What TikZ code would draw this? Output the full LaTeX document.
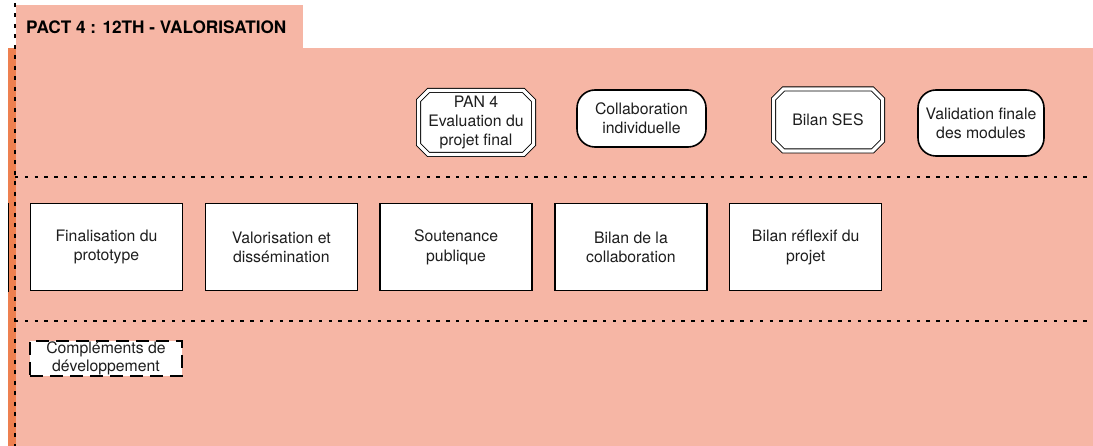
\documentclass[tikz,border=0pt]{standalone}
\usepackage{fontspec}
\setmainfont{TeX Gyre Heros}
\usepackage{tikz}
\usetikzlibrary{shapes.misc, positioning}
\usepackage{xcolor}
\definecolor{pact}{HTML}{F6B6A5}
\definecolor{pactedge}{HTML}{EE8050}
\definecolor{ink}{HTML}{1E1E1E}
\newcommand{\boxfont}{\fontsize{15.8}{19.3}\selectfont}
\tikzset{
  task/.style={rectangle, draw=black, line width=1.3pt, fill=white,
               minimum width=152pt, minimum height=87pt, inner sep=0pt,
               align=center, text=ink, font=\boxfont},
  jalon/.style={chamfered rectangle, chamfered rectangle xsep=5pt,
                chamfered rectangle ysep=5pt, draw=black, line width=0.9pt,
                double=white, double distance=3.2pt, fill=white, inner sep=0pt,
                align=center, text=ink, font=\boxfont},
  livrable/.style={rectangle, rounded corners=18pt, draw=black,
                   line width=1.6pt, fill=white, inner sep=0pt,
                   align=center, text=ink, font=\boxfont},
  option/.style={rectangle, draw=black, line width=1.8pt,
                 dash pattern=on 13pt off 7pt, fill=white, inner sep=0pt,
                 align=center, text=ink, font=\boxfont},
  sep/.style={black, line width=2pt, dash pattern=on 3.3pt off 6.5pt},
}

\begin{document}
\begin{tikzpicture}[x=1pt, y=-1pt, node distance=21.5pt]

  \useasboundingbox (0,0) rectangle (1093,446);

  %% ── PHASE BACKGROUND ─────────────────────────────────────────────────────
  \fill[pact] (16,5) rectangle (303,48);
  \fill[pact] (16,48) rectangle (1093,446);
  \fill[pactedge] (8,48) rectangle (16,446);
  \draw[sep, dash pattern=on 4pt off 6.5pt] (15,3) -- (15,446);
  \draw[line width=1.3pt] (8.5,203) -- (8.5,292);
  \node[anchor=west, inner sep=0pt, font=\fontsize{17.2}{20}\selectfont\bfseries]
    (titre) at (26,27) {PACT 4 : 12TH - VALORISATION};

  %% lane separators
  \foreach \y in {177, 321}{
    \draw[sep] (15,\y) -- (1093,\y);
  }

  %% ── MILESTONES (top lane) ────────────────────────────────────────────────
  \node[jalon, minimum width=115pt, minimum height=64pt]
    (pan)    at (476,122.5) {PAN 4\\Evaluation du\\projet final};
  \node[livrable, minimum width=129pt, minimum height=57pt]
    (collab) at (641.5,118.5) {Collaboration\\individuelle};
  \node[jalon, minimum width=109pt, minimum height=62pt]
    (ses)    at (828,120) {Bilan SES};
  \node[livrable, minimum width=126pt, minimum height=66pt]
    (modules) at (981,123) {Validation finale\\des modules};

  %% ── TASKS (middle lane, left-to-right) ───────────────────────────────────
  \node[task] (proto) at (106.5,247.3) {Finalisation du\\prototype};
  \node[task, right=of proto]  (diff)    {Valorisation et\\dissémination};
  \node[task, right=of diff]   (soute)   {Soutenance\\publique};
  \node[task, right=of soute]  (bilcol)  {Bilan de la\\collaboration};
  \node[task, right=of bilcol] (reflex)  {Bilan réflexif du\\projet};

  %% ── OPTIONAL (bottom lane) ───────────────────────────────────────────────
  \node[option, minimum width=152pt, minimum height=35pt,
        font=\fontsize{15.8}{18}\selectfont]
    (complements) at (106,358.5) {Compléments de\\développement};

\end{tikzpicture}
\end{document}
